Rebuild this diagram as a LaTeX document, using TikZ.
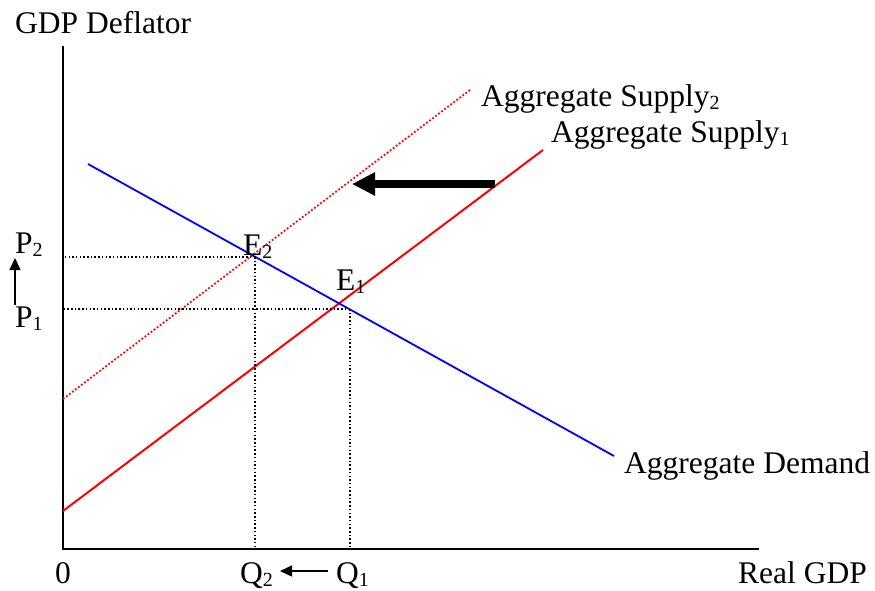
\documentclass[tikz,border=0pt]{standalone}
\usepackage{fontspec}
\setmainfont{Liberation Serif}
\usetikzlibrary{arrows.meta}
\definecolor{asred}{HTML}{FF0000}
\definecolor{adblue}{HTML}{0000FF}
\newcommand{\lowsub}[1]{\raisebox{-3pt}{\fontsize{20}{20}\selectfont #1}}

\begin{document}
\begin{tikzpicture}[x=1pt,y=-1pt,font=\fontsize{31.5}{36}\selectfont,
  lbl/.style={inner sep=0pt,anchor=base west},
  guide/.style={dash pattern=on 1.5pt off 2.2pt,line width=1.5pt},
  shiftarr/.style={-{Triangle[length=12pt,width=11pt]},line width=1.5pt}]
\useasboundingbox (0,0) rectangle (875,590);

% axes
\coordinate (o) at (63,549);
\coordinate (ytop) at (63,46);
\coordinate (xend) at (759,549);
\draw[line width=2pt] (ytop)--(o)--(xend);

% curves
\coordinate (as1a) at (63,511);  \coordinate (as1b) at (543,150);
\coordinate (as2a) at (63,399);  \coordinate (as2b) at (470,90);
\coordinate (ada) at (88,164);   \coordinate (adb) at (614,456);
\draw[asred,line width=2pt](as1a)--(as1b);
\draw[asred,line width=1.8pt,dash pattern=on 1.8pt off 2pt](as2a)--(as2b);
\draw[adblue,line width=1.8pt](ada)--(adb);

% equilibria and guides
\coordinate (e2) at (255,257);
\coordinate (e1) at (350,309);
\foreach \p in {e1,e2}{
  \draw[guide](\p)--(\p -| o);
  \draw[guide](\p)--(\p |- o);}

% labels
\node[lbl](ylab) at (15,33){GDP Deflator};
\node[lbl](xlab) at (738,583){Real GDP};
\node[inner sep=0pt,anchor=base](zero) at (63,583){0};
\node[lbl](as2lab) at (481,106){Aggregate Supply\lowsub{2}};
\node[lbl](as1lab) at (551,142){Aggregate Supply\lowsub{1}};
\node[lbl](adlab) at (624,473){Aggregate Demand};
\node[lbl](e2lab) at (243,255){E\lowsub{2}};
\node[lbl](e1lab) at (336,290){E\lowsub{1}};
\node[lbl](p2lab) at (15,253){P\lowsub{2}};
\node[lbl](p1lab) at (15,327){P\lowsub{1}};
\node[lbl](q2lab) at (240,583){Q\lowsub{2}};
\node[lbl](q1lab) at (336,583){Q\lowsub{1}};

% shifts
\coordinate (pfrom) at (15,305); \coordinate (pto) at (15,258);
\coordinate (qfrom) at (328,571); \coordinate (qto) at (280,571);
\draw[shiftarr](pfrom)--(pto);
\draw[shiftarr](qfrom)--(qto);
\coordinate (sfrom) at (495,184); \coordinate (sto) at (352,184);
\draw[-{Triangle[length=23pt,width=22pt]},line width=8pt](sfrom)--(sto);

\end{tikzpicture}
\end{document}
